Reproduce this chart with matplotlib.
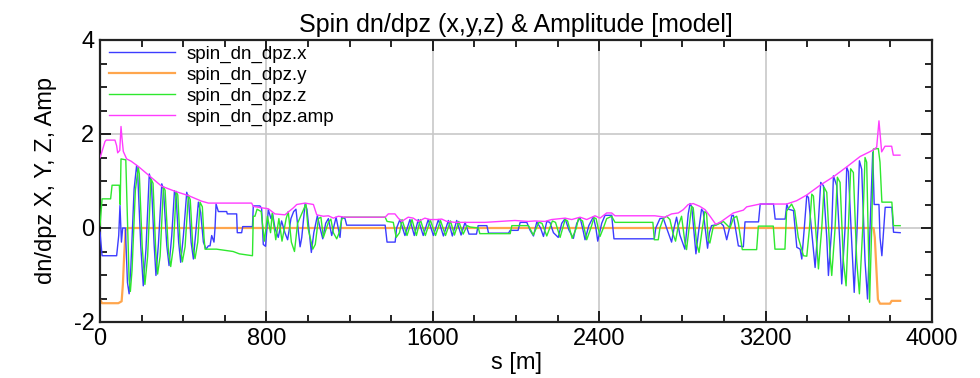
import matplotlib
matplotlib.use("Agg")
import matplotlib.pyplot as plt
from matplotlib import font_manager
from matplotlib.ticker import MultipleLocator

# spin dn/dpz along the ring
s_x = [0, 10, 80, 90, 96, 103, 109, 122, 132, 140, 148, 164, 176, 181, 196, 208, 221, 237, 247,
       260, 269, 281, 297, 305, 321, 332, 345, 358, 366, 378, 388, 401, 417, 426, 438, 449, 462,
       473, 484, 497, 510, 521, 529, 537, 548, 553, 558, 569, 609, 612, 657, 660, 681, 686, 733,
       737, 769, 777, 785, 796, 809, 822, 830, 841, 857, 873, 889, 902, 918, 931, 942, 962, 970,
       986, 995, 1016, 1028, 1045, 1058, 1071, 1085, 1098, 1114, 1135, 1145, 1154, 1162, 1178,
       1186, 1371, 1380, 1419, 1426, 1442, 1466, 1490, 1511, 1530, 1554, 1578, 1603, 1627, 1651,
       1675, 1694, 1715, 1736, 1755, 1774, 1810, 1818, 1860, 1868, 1964, 1972, 2010, 2020, 2052,
       2068, 2084, 2100, 2118, 2132, 2148, 2163, 2180, 2203, 2220, 2236, 2255, 2276, 2292, 2308,
       2320, 2332, 2350, 2372, 2384, 2393, 2412, 2428, 2460, 2471, 2665, 2672, 2692, 2708, 2724,
       2748, 2760, 2772, 2788, 2812, 2828, 2837, 2845, 2865, 2880, 2892, 2900, 2921, 2930, 2940,
       2965, 2981, 2997, 3013, 3029, 3037, 3045, 3055, 3069, 3093, 3101, 3166, 3174, 3238, 3246,
       3294, 3302, 3310, 3334, 3350, 3366, 3374, 3386, 3398, 3406, 3422, 3438, 3452, 3465, 3478,
       3494, 3502, 3518, 3526, 3542, 3558, 3566, 3582, 3590, 3598, 3614, 3626, 3640, 3651, 3662,
       3678, 3690, 3702, 3715, 3722, 3745, 3750, 3759, 3768, 3775, 3807, 3815, 3847]
dn_x = [-0.09, -0.59, -0.59, -0.16, 0.48, -0.3, 0.0, 0.0, -1.16, -1.4, -0.87, 0.83, 1.33, 1.18,
        -0.38, -1.23, -0.45, 1.15, 0.98, -0.33, -1.01, -0.33, 0.94, 0.83, -0.37, -0.8, -0.16,
        0.79, 0.68, -0.3, -0.73, -0.16, 0.76, 0.62, -0.3, -0.66, -0.02, 0.55, 0.33, -0.3, -0.45,
        -0.38, -0.38, -0.16, -0.3, 0.0, 0.51, 0.35, 0.35, 0.3, 0.3, -0.1, -0.1, 0.03, 0.03, 0.47,
        0.47, 0.42, -0.35, -0.39, 0.39, 0.2, 0.3, 0.0, -0.2, 0.15, -0.1, -0.25, 0.2, 0.35, 0.4,
        -0.4, -0.2, 0.52, 0.4, -0.52, -0.1, 0.26, 0.0, -0.23, 0.1, 0.2, -0.16, 0.23, 0.0, -0.2,
        0.23, 0.2, 0.06, 0.06, -0.3, -0.3, 0.0, 0.18, -0.16, 0.18, -0.16, 0.18, -0.16, 0.18,
        -0.16, 0.18, -0.17, 0.16, -0.17, 0.16, -0.15, 0.12, -0.13, -0.13, 0.05, 0.05, -0.11,
        -0.11, -0.05, -0.05, 0.12, 0.12, -0.05, -0.17, 0.13, 0.0, -0.18, 0.14, 0.12, -0.1, -0.2,
        0.1, 0.2, -0.05, -0.22, 0.1, 0.22, 0.0, -0.25, 0.05, 0.24, 0.0, -0.28, 0.1, 0.27, 0.27,
        -0.23, -0.23, 0.0, 0.2, 0.21, 0.0, -0.3, 0.0, 0.23, -0.15, -0.45, 0.3, 0.52, 0.45, -0.55,
        0.0, 0.4, 0.35, -0.43, -0.1, 0.05, 0.07, 0.12, 0.05, -0.25, 0.05, 0.26, 0.27, 0.0, -0.38,
        -0.4, 0.13, 0.13, 0.51, 0.51, 0.19, 0.19, 0.51, 0.4, 0.37, -0.41, -0.45, -0.66, 0.0, 0.69,
        0.65, -0.1, -0.84, 0.0, 0.97, 0.9, -0.2, -1.01, 0.0, 1.11, 0.9, -0.4, -1.19, 0.0, 1.29,
        1.2, -0.3, -1.37, 0.0, 1.43, 1.25, -0.7, -1.51, 0.0, 1.61, 0.5, 0.5, -0.2, -0.59, 0.0,
        0.44, 0.44, -0.09, -0.1]

s_y = [0, 10, 88, 104, 110, 116, 123, 130, 3719, 3725, 3733, 3740, 3750, 3798, 3806, 3847]
dn_y = [-1.52, -1.6, -1.6, -1.56, -1.2, -0.6, -0.05, 0.0, 0.0, -0.2, -0.9, -1.52, -1.61, -1.61,
        -1.55, -1.55]

s_z = [0, 10, 51, 58, 93, 97, 101, 124, 130, 140, 146, 154, 170, 184, 189, 203, 216, 229, 245,
       255, 268, 277, 289, 305, 313, 329, 340, 353, 366, 374, 386, 396, 409, 425, 434, 446, 457,
       470, 481, 492, 500, 505, 560, 640, 670, 733, 737, 745, 755, 775, 790, 805, 820, 828, 845,
       860, 875, 895, 905, 920, 935, 950, 990, 1000, 1023, 1035, 1050, 1062, 1074, 1098, 1110,
       1122, 1138, 1150, 1162, 1175, 1371, 1380, 1410, 1424, 1440, 1452, 1476, 1500, 1521, 1540,
       1564, 1588, 1613, 1637, 1661, 1685, 1704, 1725, 1746, 1765, 1780, 1819, 1826, 1972, 1980,
       2060, 2083, 2110, 2125, 2148, 2175, 2190, 2212, 2236, 2248, 2270, 2290, 2300, 2320, 2340,
       2360, 2375, 2385, 2404, 2420, 2436, 2460, 2476, 2658, 2665, 2684, 2692, 2708, 2724, 2740,
       2756, 2767, 2780, 2796, 2812, 2820, 2833, 2844, 2852, 2868, 2880, 2896, 2908, 2916, 2924,
       2932, 2949, 2965, 2981, 2997, 3029, 3045, 3061, 3069, 3088, 3157, 3165, 3237, 3245, 3293,
       3301, 3325, 3340, 3357, 3382, 3398, 3411, 3422, 3430, 3446, 3454, 3470, 3481, 3494, 3510,
       3518, 3534, 3545, 3558, 3574, 3587, 3598, 3609, 3622, 3638, 3651, 3667, 3678, 3686, 3700,
       3710, 3718, 3742, 3750, 3759, 3807, 3815, 3847]
dn_z = [0.05, 0.62, 0.62, 0.91, 0.91, 0.5, 1.47, 1.45, 0.5, -1.1, -1.35, -0.9, 0.8, 1.3, 1.15,
        -0.4, -1.2, -0.6, 1.05, 0.95, -0.5, -0.98, -0.6, 0.88, 0.8, -0.5, -0.82, -0.4, 0.78, 0.7,
        -0.4, -0.72, -0.4, 0.7, 0.6, -0.4, -0.65, -0.3, 0.55, 0.45, -0.2, -0.45, -0.45, -0.5,
        -0.55, -0.59, 0.25, 0.25, 0.4, 0.35, -0.28, 0.25, -0.1, 0.32, -0.25, 0.2, -0.28, 0.2,
        0.35, -0.3, -0.5, 0.1, 0.51, 0.0, -0.45, -0.35, 0.2, 0.23, -0.2, 0.12, 0.19, -0.1, -0.23,
        -0.1, 0.19, 0.23, 0.23, 0.14, 0.12, -0.2, -0.1, 0.18, -0.16, 0.18, -0.16, 0.18, -0.16,
        0.17, -0.16, 0.16, -0.16, 0.15, -0.15, 0.14, -0.13, 0.05, 0.02, 0.0, -0.12, -0.12, 0.05,
        0.05, -0.15, 0.12, 0.1, -0.17, 0.15, 0.12, -0.2, 0.18, 0.15, -0.22, 0.0, 0.2, 0.15,
        -0.25, 0.0, 0.22, 0.2, -0.18, 0.0, 0.2, 0.25, 0.12, 0.12, -0.25, -0.25, 0.0, 0.2, 0.25,
        0.18, -0.14, -0.28, 0.04, 0.25, -0.3, -0.46, 0.04, 0.46, 0.43, -0.32, -0.52, 0.0, 0.35,
        0.32, -0.25, -0.32, 0.04, 0.07, 0.1, 0.14, 0.0, 0.21, 0.25, 0.1, -0.46, -0.46, 0.04, 0.04,
        -0.45, -0.45, 0.36, 0.51, 0.37, -0.2, -0.59, -0.6, 0.0, 0.72, 0.68, -0.35, -0.87, 0.0,
        0.87, 0.76, -0.6, -1.01, 0.0, 1.08, 0.97, -0.7, -1.23, 0.0, 1.26, 1.18, -0.7, -1.4, 0.0,
        1.5, 1.4, -1.58, 0.0, 1.68, 1.69, 1.4, 0.55, 0.55, 0.05, 0.05]

s_amp = [0, 5, 24, 30, 72, 80, 85, 95, 101, 106, 112, 128, 150, 184, 232, 296, 361, 425, 489,
         521, 729, 737, 777, 809, 841, 889, 930, 946, 986, 1026, 1042, 1074, 1098, 1122, 1146,
         1178, 1371, 1386, 1418, 1434, 1450, 1482, 1506, 1530, 1562, 1586, 1618, 1643, 1667,
         1707, 1851, 1995, 2059, 2091, 2139, 2171, 2236, 2268, 2308, 2340, 2380, 2404, 2436,
         2460, 2476, 2668, 2716, 2748, 2780, 2804, 2828, 2852, 2884, 2909, 2933, 2960, 2981,
         3045, 3093, 3109, 3173, 3301, 3349, 3397, 3462, 3526, 3590, 3654, 3718, 3734, 3745,
         3758, 3774, 3806, 3814, 3846]
dn_amp = [1.5, 1.56, 1.84, 1.87, 1.87, 1.75, 1.6, 1.65, 2.16, 1.9, 1.63, 1.47, 1.42, 1.31, 1.13,
          0.89, 0.78, 0.69, 0.57, 0.53, 0.53, 0.46, 0.43, 0.41, 0.3, 0.28, 0.43, 0.5, 0.53, 0.5,
          0.28, 0.25, 0.26, 0.21, 0.25, 0.23, 0.23, 0.3, 0.3, 0.21, 0.14, 0.23, 0.21, 0.14, 0.21,
          0.18, 0.18, 0.19, 0.14, 0.12, 0.12, 0.16, 0.14, 0.15, 0.14, 0.18, 0.21, 0.18, 0.23,
          0.18, 0.26, 0.21, 0.32, 0.32, 0.26, 0.26, 0.23, 0.3, 0.32, 0.39, 0.5, 0.52, 0.46, 0.39,
          0.25, 0.08, 0.12, 0.32, 0.38, 0.45, 0.51, 0.51, 0.58, 0.7, 0.91, 1.09, 1.3, 1.52, 1.66,
          1.72, 2.28, 1.62, 1.74, 1.74, 1.55, 1.55]

names = {f.name for f in font_manager.fontManager.ttflist}
fam = "Liberation Sans" if "Liberation Sans" in names else "DejaVu Sans"
plt.rcParams["font.family"] = [fam, "DejaVu Sans"]
plt.rcParams["axes.unicode_minus"] = False

fig = plt.figure(figsize=(9.8, 3.78), dpi=100)
ax = fig.add_axes([100 / 980, 1 - 322 / 378, 832 / 980, 282 / 378])

ax.plot(s_y, dn_y, color="#ffa64d", lw=1.6, label="spin_dn_dpz.y", zorder=2)
ax.plot(s_x, dn_x, color="#3c3cff", lw=1.0, label="spin_dn_dpz.x", zorder=3)
ax.plot(s_z, dn_z, color="#2ee82e", lw=1.0, label="spin_dn_dpz.z", zorder=4)
ax.plot(s_amp, dn_amp, color="#ff3cff", lw=1.0, label="spin_dn_dpz.amp", zorder=5)

ax.set_xlim(0, 4000)
ax.set_ylim(-2, 4)
ax.xaxis.set_major_locator(MultipleLocator(800))
ax.xaxis.set_minor_locator(MultipleLocator(200))
ax.yaxis.set_major_locator(MultipleLocator(2))
ax.yaxis.set_minor_locator(MultipleLocator(0.5))
ax.tick_params(which="both", direction="in", top=True, right=True, labelsize=17, width=1.2)
ax.tick_params(which="major", length=8, pad=4)
ax.tick_params(which="minor", length=5)
ax.grid(True, which="major", color="#c8c8c8", lw=1.2, zorder=0)
for sp in ax.spines.values():
    sp.set_linewidth(1.6)
    sp.set_color("#222222")

ax.set_title("Spin dn/dpz (x,y,z) & Amplitude [model]", fontsize=18, pad=6)
ax.set_xlabel("s [m]", fontsize=17, labelpad=2)
ax.set_ylabel("dn/dpz X, Y, Z, Amp", fontsize=17, labelpad=12)

h, l = ax.get_legend_handles_labels()
order = [1, 0, 2, 3]
ax.legend([h[i] for i in order], [l[i] for i in order], loc="upper left",
          bbox_to_anchor=(0.0, 1.014), frameon=False, fontsize=13.5, handlelength=3.5,
          handletextpad=0.6, labelspacing=0.2, borderaxespad=0.3, borderpad=0.2)

fig.savefig("out.png", dpi=100)
